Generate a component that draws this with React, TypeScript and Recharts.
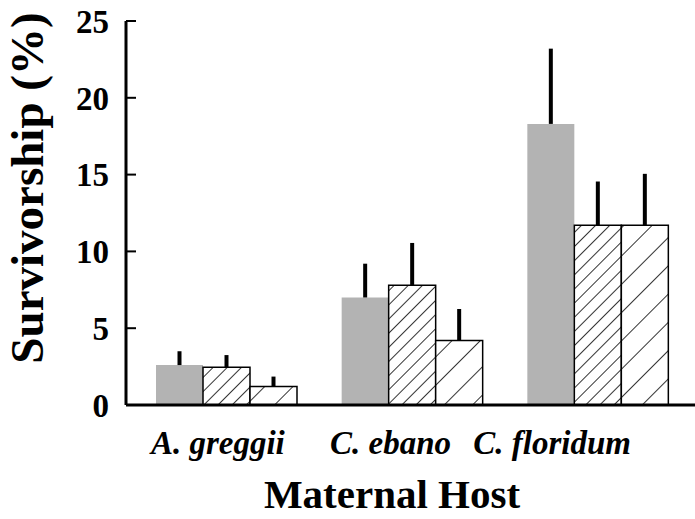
import { BarChart, Bar, XAxis, YAxis, ErrorBar } from "recharts";

// maternal host plants
const hosts = ["A. greggii", "C. ebano", "C. floridum"];

// survivorship (%) per treatment
const solidMeans = [2.6, 7.0, 18.3];
const solidErr = [0.9, 2.2, 4.9];
const denseMeans = [2.45, 7.8, 11.7];
const denseErr = [0.8, 2.75, 2.85];
const sparseMeans = [1.2, 4.2, 11.7];
const sparseErr = [0.65, 2.05, 3.35];

const yTicks = [0, 5, 10, 15, 20, 25];

// the original's category labels sit a bit left of their bar groups
const labelShift = [-8, -21, -45];

const chartData = hosts.map((host, i) => ({
    host,
    solid: solidMeans[i],
    solidErr: [0, solidErr[i]],
    dense: denseMeans[i],
    denseErr: [0, denseErr[i]],
    sparse: sparseMeans[i],
    sparseErr: [0, sparseErr[i]],
}));

const FONT = "'Liberation Serif', 'Times New Roman', serif";

const YTick = ({ x, y, payload }: any) => (
    <g>
        <line x1={x} x2={x + 10} y1={y} y2={y} stroke="#000" strokeWidth={2} />
        <text
            x={x - 17}
            y={y}
            dy="0.36em"
            textAnchor="end"
            fontFamily={FONT}
            fontWeight="bold"
            fontSize={33}
            fill="#000"
        >
            {payload.value}
        </text>
    </g>
);

const XTick = ({ x, y, payload, index }: any) => (
    <text
        x={x + (labelShift[index] ?? 0)}
        y={y + 41}
        textAnchor="middle"
        fontFamily={FONT}
        fontWeight="bold"
        fontStyle="italic"
        fontSize={33}
        fill="#000"
    >
        {payload.value}
    </text>
);

export default function App() {
    return (
        <div style={{ position: "absolute", left: 0, top: 0, width: 695, height: 519, background: "#fff" }}>
            <BarChart
                width={695}
                height={519}
                data={chartData}
                margin={{ top: 21, right: 0, left: 66, bottom: 0 }}
                barGap={0}
                barCategoryGap={23}
            >
                <defs>
                    <pattern id="hatchDense" patternUnits="userSpaceOnUse" width={10} height={10} patternTransform="rotate(45)">
                        <rect width={10} height={10} fill="#fff" />
                        <line x1={0} y1={0} x2={0} y2={10} stroke="#000" strokeWidth={1.6} />
                    </pattern>
                    <pattern id="hatchSparse" patternUnits="userSpaceOnUse" width={20} height={20} patternTransform="rotate(45)">
                        <rect width={20} height={20} fill="#fff" />
                        <line x1={0} y1={0} x2={0} y2={20} stroke="#000" strokeWidth={1.6} />
                    </pattern>
                </defs>
                <XAxis
                    dataKey="host"
                    height={114}
                    padding={{ left: 7, right: 5 }}
                    axisLine={{ stroke: "#000", strokeWidth: 3 }}
                    tickLine={false}
                    tick={<XTick />}
                    label={{
                        content: () => (
                            <text x={392} y={508} textAnchor="middle" fontFamily={FONT} fontWeight="bold" fontSize={41} fill="#000">
                                Maternal Host
                            </text>
                        ),
                    }}
                />
                <YAxis
                    width={60}
                    domain={[0, 25]}
                    ticks={yTicks}
                    interval={0}
                    tickSize={0}
                    tickMargin={0}
                    tickLine={false}
                    axisLine={{ stroke: "#000", strokeWidth: 3 }}
                    tick={<YTick />}
                    label={{
                        content: () => (
                            <text
                                x={43}
                                y={188}
                                transform="rotate(-90 43 188)"
                                textAnchor="middle"
                                fontFamily={FONT}
                                fontWeight="bold"
                                fontSize={47}
                                fill="#000"
                            >
                                Survivorship (%)
                            </text>
                        ),
                    }}
                />
                <Bar dataKey="solid" fill="#b3b3b3" isAnimationActive={false}>
                    <ErrorBar dataKey="solidErr" direction="y" width={0} stroke="#000" strokeWidth={4} />
                </Bar>
                <Bar dataKey="dense" fill="url(#hatchDense)" stroke="#000" strokeWidth={1.5} isAnimationActive={false}>
                    <ErrorBar dataKey="denseErr" direction="y" width={0} stroke="#000" strokeWidth={4} />
                </Bar>
                <Bar dataKey="sparse" fill="url(#hatchSparse)" stroke="#000" strokeWidth={1.5} isAnimationActive={false}>
                    <ErrorBar dataKey="sparseErr" direction="y" width={0} stroke="#000" strokeWidth={4} />
                </Bar>
            </BarChart>
        </div>
    );
}
